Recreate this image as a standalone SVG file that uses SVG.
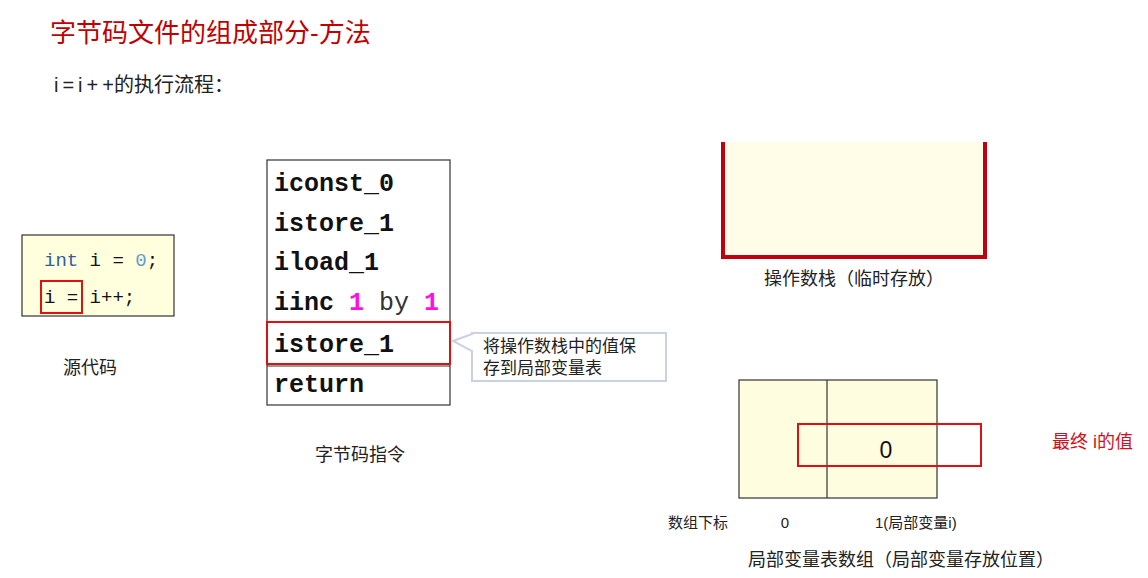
<svg xmlns="http://www.w3.org/2000/svg" width="1148" height="578" viewBox="0 0 1148 578">
<style>
.cjk{font-family:"Liberation Sans","Noto Sans CJK SC",sans-serif;fill:#222}
.mono{font-family:"Liberation Mono","DejaVu Sans Mono",monospace}
.bc{font-family:"Liberation Mono","DejaVu Sans Mono",monospace;font-weight:bold;font-size:25px;fill:#111}
.hl{fill:none;stroke:#e01010;stroke-width:2}
</style>
<rect width="1148" height="578" fill="#fff"/>
<text x="50" y="42" class="cjk" font-size="26" style="fill:#c00000">字节码文件的组成部分-方法</text>
<text x="54" y="92" class="cjk" font-size="20"><tspan letter-spacing="4">i=i+</tspan>+的执行流程：</text>

<g id="source">
<rect x="22" y="235" width="152" height="81" fill="#ffffdd" stroke="#333" stroke-width="1.2"/>
<text x="44" y="266" class="mono" font-size="19" fill="#111"><tspan fill="#2e5fa0">int</tspan> i = <tspan fill="#6a9ad0">0</tspan>;</text>
<text x="44" y="303" class="mono" font-size="19" fill="#111">i = i++;</text>
<rect x="41" y="281" width="41" height="32" class="hl"/>
<text x="63" y="374" class="cjk" font-size="18">源代码</text>
</g>

<g id="bytecode">
<rect x="267" y="160" width="183" height="245" fill="#fff" stroke="#333" stroke-width="1.2"/>
<line x1="267" y1="366" x2="450" y2="366" stroke="#333" stroke-width="1.2"/>
<text x="274" y="191" class="bc">iconst_0</text>
<text x="274" y="231" class="bc">istore_1</text>
<text x="274" y="270" class="bc">iload_1</text>
<text x="274" y="310" class="bc">iinc <tspan fill="#ff10e0">1</tspan> <tspan fill="#333" font-weight="normal">by</tspan> <tspan fill="#ff10e0">1</tspan></text>
<text x="274" y="352" class="bc">istore_1</text>
<text x="274" y="392" class="bc">return</text>
<rect x="267" y="322" width="183" height="42" class="hl"/>
<text x="315" y="461" class="cjk" font-size="18">字节码指令</text>
</g>

<g id="callout">
<path d="M472 334 L472 333 L666 333 L666 381 L472 381 L472 351 L453 341 Z" fill="#fff" stroke="#c9d2de" stroke-width="2" stroke-linejoin="miter"/>
<text x="483" y="352" class="cjk" font-size="17">将操作数栈中的值保</text>
<text x="483" y="374" class="cjk" font-size="17">存到局部变量表</text>
</g>

<g id="stack">
<rect x="723" y="142" width="262" height="115" fill="#fffde8"/>
<path d="M723 142 L723 257 L985 257 L985 142" fill="none" stroke="#c00010" stroke-width="4"/>
<text x="854" y="285" class="cjk" font-size="18" text-anchor="middle">操作数栈（临时存放）</text>
</g>

<g id="locals">
<rect x="739" y="380" width="198" height="118" fill="#fffde0" stroke="#333" stroke-width="1.2"/>
<line x1="827" y1="380" x2="827" y2="498" stroke="#333" stroke-width="1.2"/>
<rect x="798" y="424" width="183" height="42" class="hl"/>
<text x="886" y="458" class="cjk" font-size="23" text-anchor="middle" style="fill:#111">0</text>
<text x="1052" y="448" class="cjk" font-size="18" style="fill:#d01020">最终 i的值</text>
<text x="668" y="528" class="cjk" font-size="15">数组下标</text>
<text x="785" y="528" class="cjk" font-size="15" text-anchor="middle">0</text>
<text x="875" y="528" class="cjk" font-size="15">1(局部变量i)</text>
<text x="748" y="566" class="cjk" font-size="18">局部变量表数组（局部变量存放位置）</text>
</g>
</svg>
